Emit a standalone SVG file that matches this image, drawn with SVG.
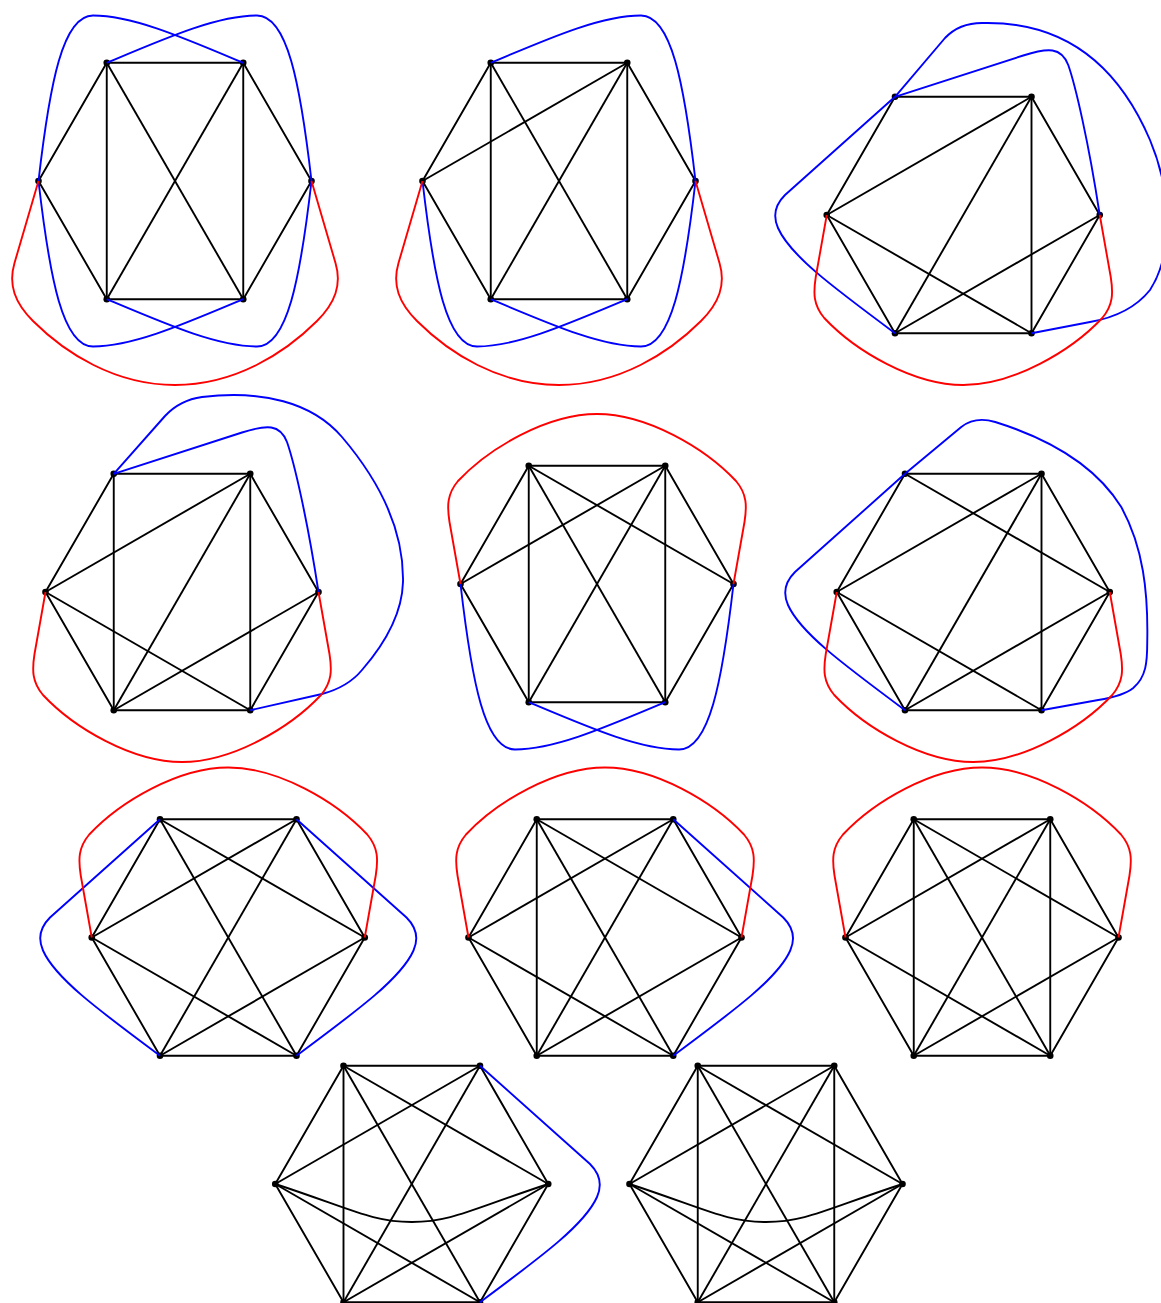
<svg xmlns="http://www.w3.org/2000/svg" xmlns:xlink="http://www.w3.org/1999/xlink" width="1161" height="1303" viewBox="0 0 1161 1303">
<style>
.k{stroke:#000;stroke-width:1.9;fill:none;stroke-linejoin:round}
.bl{stroke:#0000ff;stroke-width:1.9;fill:none;stroke-linejoin:round}
.rd{stroke:#ff0000;stroke-width:1.9;fill:none;stroke-linejoin:round}
.v{fill:#000}
</style>
<defs>
<path id="hex" d="M-68.25-118.2H68.25L136.5 0 68.25 118.2H-68.25L-136.5 0Z"/>
<path id="ae" d="M-68.25-118.2V118.2"/>
<path id="bd" d="M68.25-118.2V118.2"/>
<path id="ad" d="M-68.25-118.2L68.25 118.2"/>
<path id="be" d="M68.25-118.2L-68.25 118.2"/>
<path id="lb" d="M-136.5 0L68.25-118.2"/>
<path id="ar" d="M-68.25-118.2L136.5 0"/>
<path id="ld" d="M-136.5 0L68.25 118.2"/>
<path id="er" d="M-68.25 118.2L136.5 0"/>
<path id="lr" d="M-136.5 0C-60 25-40 38 0 38C40 38 60 25 136.5 0"/>
<path id="shB" d="M-136.5 0C-125.1 99.3-112 165.5-82 165.5C-42 165.5 8.25 143.4 68.25 118.2"/>
<path id="shA" d="M-136.5 0L-160.5 82C-167 104-160 122-142 140C-110 172-60 204 0 204C60 204 110 172 142 140C160 122 167 104 160.5 82L136.5 0"/>
<path id="shA2" d="M-136.5 0L-147.5 62C-150 78-150 90-139 103C-108 136-50 170 0 170C50 170 108 136 139 103C150 90 150 78 147.5 62L136.5 0"/>
<path id="shIn" d="M-68.25-118.2L60-159.5C85-167.5 98-168 105-150C112-130 125-75 136.5 0"/>
<path id="shLeft" d="M-68.25-118.2L-178.25-20Q-193.25-5-185.25 13C-173.25 40-133.25 70-68.25 118.2"/>
<path id="out3" d="M-68.25-118.2L-18.25-177Q-3.25-193 21.75-192C106.75-193 156.75-145 186.75-75C211.75-15 206.75 45 186.75 75Q166.75 100 126.75 107L68.25 118.2"/>
<path id="out4" d="M-68.25-118.2L-17-176Q-2-192 20-195C80-202 130-190 160-155C200-108 222-60 221-10C220 25 200 55 180 78Q166 95 140 102L68.25 118.2"/>
<path id="out6" d="M-68.25-118.2L-12-165Q2-176 22-170C70-155 120-130 148-85C170-45 175 0 174 50C174 70 173 85 160 96Q150 104 125 108L68.25 118.2"/>
<g id="dots">
<circle cx="-68.25" cy="-118.2" r="3.3"/>
<circle cx="68.25" cy="-118.2" r="3.3"/>
<circle cx="136.5" cy="0" r="3.3"/>
<circle cx="68.25" cy="118.2" r="3.3"/>
<circle cx="-68.25" cy="118.2" r="3.3"/>
<circle cx="-136.5" cy="0" r="3.3"/>
</g>
</defs>

<g id="graph1" transform="translate(175 181)">
<g class="connectors">
<g class="k"><use href="#hex"/><use href="#ae"/><use href="#bd"/><use href="#ad"/><use href="#be"/></g>
</g>
<g id="graph1-nodes" class="v"><use href="#dots"/></g>
<g class="connectors">
<g class="bl"><use href="#shB"/><use href="#shB" transform="scale(-1 1)"/><use href="#shB" transform="scale(1 -1)"/><use href="#shB" transform="scale(-1 -1)"/></g>
<g class="rd"><use href="#shA"/></g>
</g>
</g>

<g id="graph2" transform="translate(559 181)">
<g class="connectors">
<g class="k"><use href="#hex"/><use href="#ae"/><use href="#bd"/><use href="#ad"/><use href="#be"/><use href="#lb"/></g>
</g>
<g id="graph2-nodes" class="v"><use href="#dots"/></g>
<g class="connectors">
<g class="bl"><use href="#shB"/><use href="#shB" transform="scale(-1 1)"/><use href="#shB" transform="scale(-1 -1)"/></g>
<g class="rd"><use href="#shA"/></g>
</g>
</g>

<g id="graph3" transform="translate(963.25 215)">
<g class="connectors">
<g class="k"><use href="#hex"/><use href="#lb"/><use href="#be"/><use href="#bd"/><use href="#ld"/><use href="#er"/></g>
</g>
<g id="graph3-nodes" class="v"><use href="#dots"/></g>
<g class="connectors">
<g class="bl"><use href="#shIn"/><use href="#shLeft"/><use href="#out3"/></g>
<g class="rd"><use href="#shA2"/></g>
</g>
</g>

<g id="graph4" transform="translate(182 592)">
<g class="connectors">
<g class="k"><use href="#hex"/><use href="#ae"/><use href="#bd"/><use href="#lb"/><use href="#be"/><use href="#ld"/><use href="#er"/></g>
</g>
<g id="graph4-nodes" class="v"><use href="#dots"/></g>
<g class="connectors">
<g class="bl"><use href="#shIn"/><use href="#out4"/></g>
<g class="rd"><use href="#shA2"/></g>
</g>
</g>

<g id="graph5" transform="translate(597 584)">
<g class="connectors">
<g class="k"><use href="#hex"/><use href="#ae"/><use href="#bd"/><use href="#ad"/><use href="#be"/><use href="#lb"/><use href="#ar"/></g>
</g>
<g id="graph5-nodes" class="v"><use href="#dots"/></g>
<g class="connectors">
<g class="bl"><use href="#shB"/><use href="#shB" transform="scale(-1 1)"/></g>
<g class="rd"><use href="#shA2" transform="scale(1 -1)"/></g>
</g>
</g>

<g id="graph6" transform="translate(973.25 592)">
<g class="connectors">
<g class="k"><use href="#hex"/><use href="#ar"/><use href="#lb"/><use href="#be"/><use href="#bd"/><use href="#ld"/><use href="#er"/></g>
</g>
<g id="graph6-nodes" class="v"><use href="#dots"/></g>
<g class="connectors">
<g class="bl"><use href="#shLeft"/><use href="#out6"/></g>
<g class="rd"><use href="#shA2"/></g>
</g>
</g>

<g id="graph7" transform="translate(228.25 937.5)">
<g class="connectors">
<g class="k"><use href="#hex"/><use href="#ad"/><use href="#be"/><use href="#lb"/><use href="#ar"/><use href="#ld"/><use href="#er"/></g>
</g>
<g id="graph7-nodes" class="v"><use href="#dots"/></g>
<g class="connectors">
<g class="bl"><use href="#shLeft"/><use href="#shLeft" transform="scale(-1 1)"/></g>
<g class="rd"><use href="#shA2" transform="scale(1 -1)"/></g>
</g>
</g>

<g id="graph8" transform="translate(605 937.5)">
<g class="connectors">
<g class="k"><use href="#hex"/><use href="#ae"/><use href="#ad"/><use href="#be"/><use href="#lb"/><use href="#ar"/><use href="#ld"/><use href="#er"/></g>
</g>
<g id="graph8-nodes" class="v"><use href="#dots"/></g>
<g class="connectors">
<g class="bl"><use href="#shLeft" transform="scale(-1 1)"/></g>
<g class="rd"><use href="#shA2" transform="scale(1 -1)"/></g>
</g>
</g>

<g id="graph9" transform="translate(982 937.5)">
<g class="connectors">
<g class="k"><use href="#hex"/><use href="#ae"/><use href="#bd"/><use href="#ad"/><use href="#be"/><use href="#lb"/><use href="#ar"/><use href="#ld"/><use href="#er"/></g>
</g>
<g id="graph9-nodes" class="v"><use href="#dots"/></g>
<g class="connectors">
<g class="rd"><use href="#shA2" transform="scale(1 -1)"/></g>
</g>
</g>

<g id="graph10" transform="translate(411.75 1184)">
<g class="connectors">
<g class="k"><use href="#hex"/><use href="#ae"/><use href="#ad"/><use href="#be"/><use href="#lb"/><use href="#ar"/><use href="#ld"/><use href="#er"/><use href="#lr"/></g>
</g>
<g id="graph10-nodes" class="v"><use href="#dots"/></g>
<g class="connectors">
<g class="bl"><use href="#shLeft" transform="scale(-1 1)"/></g>
</g>
</g>

<g id="graph11" transform="translate(766 1184)">
<g class="connectors">
<g class="k"><use href="#hex"/><use href="#ae"/><use href="#bd"/><use href="#ad"/><use href="#be"/><use href="#lb"/><use href="#ar"/><use href="#ld"/><use href="#er"/><use href="#lr"/></g>
</g>
<g id="graph11-nodes" class="v"><use href="#dots"/></g>
</g>
</svg>
